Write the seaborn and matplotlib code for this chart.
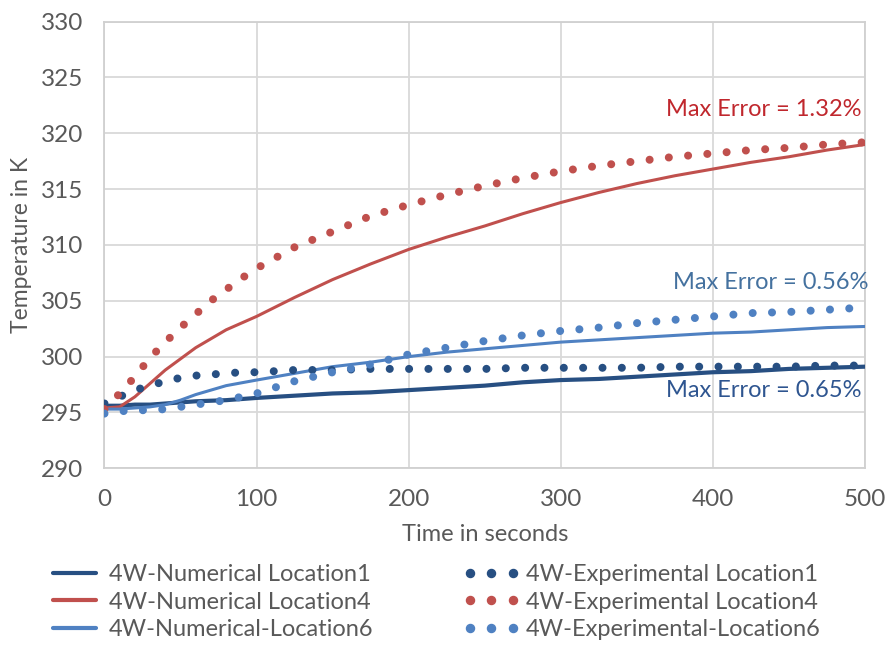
import numpy as np
import pandas as pd
import matplotlib
matplotlib.use("Agg")
import matplotlib.pyplot as plt
from matplotlib.lines import Line2D
import seaborn as sns

# ---------------- data ----------------
t_num = [0, 10, 20, 30, 40, 50, 60, 80, 100, 125, 150, 175, 200, 225, 250,
         275, 300, 325, 350, 375, 400, 425, 450, 475, 500]
num_loc1 = [295.6, 295.6, 295.7, 295.7, 295.8, 295.9, 296.0, 296.1, 296.3, 296.5,
            296.7, 296.8, 297.0, 297.2, 297.4, 297.7, 297.9, 298.0, 298.2, 298.4,
            298.6, 298.7, 298.9, 299.0, 299.1]
num_loc4 = [295.4, 295.5, 296.4, 297.6, 298.8, 299.8, 300.8, 302.4, 303.6, 305.3,
            306.9, 308.3, 309.6, 310.7, 311.7, 312.8, 313.8, 314.7, 315.5, 316.2,
            316.8, 317.4, 317.9, 318.5, 319.0]
num_loc6 = [295.3, 295.3, 295.4, 295.5, 295.7, 296.1, 296.6, 297.4, 297.9, 298.5,
            299.1, 299.5, 300.0, 300.4, 300.7, 301.0, 301.3, 301.5, 301.7, 301.9,
            302.1, 302.2, 302.4, 302.6, 302.7]

t_exp = [0, 10, 20, 30, 40, 50, 60, 70, 80, 90, 100, 125, 150, 175, 200, 225,
         250, 275, 300, 325, 350, 375, 400, 425, 450, 475, 500]
exp_loc1 = [295.8, 296.4, 297.0, 297.4, 297.8, 298.1, 298.3, 298.4, 298.5, 298.6,
            298.6, 298.8, 298.8, 298.9, 298.9, 298.9, 298.9, 299.0, 299.0, 299.0,
            299.0, 299.1, 299.1, 299.1, 299.1, 299.2, 299.2]
exp_loc4 = [295.3, 296.7, 298.2, 299.9, 301.3, 302.6, 303.8, 305.0, 306.0, 307.0,
            307.9, 309.8, 311.2, 312.6, 313.6, 314.5, 315.3, 316.0, 316.6, 317.1,
            317.5, 317.9, 318.2, 318.5, 318.7, 319.0, 319.2]
exp_loc6 = [294.9, 295.1, 295.2, 295.2, 295.3, 295.5, 295.7, 295.9, 296.1, 296.4,
            296.7, 297.8, 298.6, 299.3, 300.2, 300.8, 301.4, 301.9, 302.3, 302.6,
            303.0, 303.3, 303.6, 303.9, 304.0, 304.2, 304.4]

labels_num = ["4W-Numerical Location1", "4W-Numerical Location4", "4W-Numerical-Location6"]
labels_exp = ["4W-Experimental Location1", "4W-Experimental Location4", "4W-Experimental-Location6"]
annotations = ["Max Error = 1.32%", "Max Error = 0.56%", "Max Error = 0.65%"]
x_ticks = [0, 100, 200, 300, 400, 500]
y_ticks = [290, 295, 300, 305, 310, 315, 320, 325, 330]

# ---------------- style ----------------
sns.set_style("white")
plt.rcParams["font.family"] = ["Lato", "DejaVu Sans"]

c_dark = "#274F82"
c_red = "#C0504D"
c_light = "#4F81C2"
txt_gray = "#595959"
grid_c = "#D9D9D9"

fig = plt.figure(figsize=(8.89, 6.45), dpi=100)
ax = fig.add_axes([0.1175, 0.274, 0.973 - 0.1175, 0.9664 - 0.274])

dot_lw = 5.8
dot_style = (0, (0.001, 2.4))

sns.lineplot(x=t_num, y=num_loc1, ax=ax, color=c_dark, linewidth=3.0, zorder=3)
sns.lineplot(x=t_num, y=num_loc4, ax=ax, color=c_red, linewidth=2.2, zorder=3)
sns.lineplot(x=t_num, y=num_loc6, ax=ax, color=c_light, linewidth=2.2, zorder=3)
for tv, yv, c in [(t_exp, exp_loc1, c_dark), (t_exp, exp_loc4, c_red), (t_exp, exp_loc6, c_light)]:
    sns.lineplot(x=tv, y=yv, ax=ax, color=c, linewidth=dot_lw, linestyle=dot_style,
                 dash_capstyle="round", zorder=4)

ax.set_xlim(0, 500)
ax.set_ylim(290, 330)
ax.set_xticks(x_ticks)
ax.set_yticks(y_ticks)
ax.grid(True, color=grid_c, linewidth=1.3, zorder=0)
ax.set_axisbelow(True)
for s in ax.spines.values():
    s.set_color("#D0D0D0")
    s.set_linewidth(1.3)
ax.tick_params(axis="both", length=0, labelsize=17.5, colors=txt_gray, pad=15)
ax.set_xlabel("Time in seconds", fontsize=17, color=txt_gray, labelpad=10)
ax.set_ylabel("Temperature in K", fontsize=16.5, color=txt_gray, labelpad=7)

# annotations
ax.text(498, 322.1, annotations[0], color="#C0272D", fontsize=17, ha="right", va="center")
ax.text(502.6, 306.6, annotations[1], color="#44719F", fontsize=17, ha="right", va="center", clip_on=False)
ax.text(498, 297.0, annotations[2], color="#2E5590", fontsize=17, ha="right", va="center")

# legend
handles = [Line2D([], [], color=c, linewidth=3.0) for c in (c_dark, c_red, c_light)]
handles += [Line2D([], [], color=c, linestyle="None", marker="o", markersize=5.8)
            for c in (c_dark, c_red, c_light)]
leg = fig.legend(handles, labels_num + labels_exp, ncol=2, loc="upper left",
                 bbox_to_anchor=(0.052, 1 - 564 / 645), frameon=False, fontsize=17,
                 handlelength=2.4, handletextpad=0.25, columnspacing=3.8,
                 labelspacing=0.28, numpoints=3, borderaxespad=0, borderpad=0)
for t in leg.get_texts():
    t.set_color(txt_gray)

fig.savefig("out.png", dpi=100)
